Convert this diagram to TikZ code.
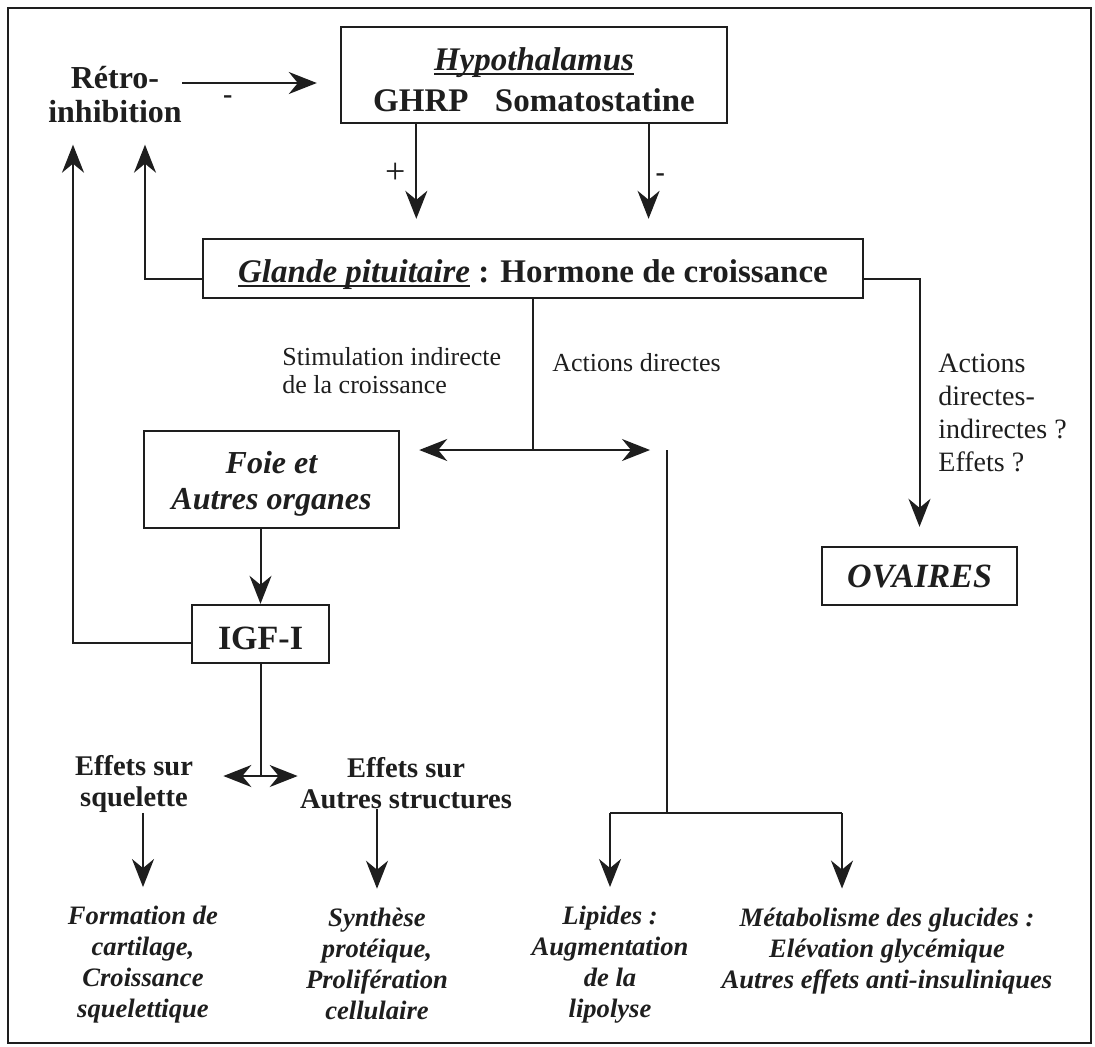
\documentclass[tikz,border=0pt]{standalone}
\usepackage{fontspec}
\setmainfont{Liberation Serif}
\usetikzlibrary{arrows.meta,calc}

\newsavebox{\undlbox}
\newcommand{\undl}[1]{\sbox{\undlbox}{#1}\rlap{\rule[-2pt]{\wd\undlbox}{1pt}}\usebox{\undlbox}}
\newcommand{\lift}[1]{\rule{0pt}{#1}}

\definecolor{ink}{RGB}{30,30,30}

% fonts
\newcommand{\fmain}{\fontsize{16.5}{20.5}\selectfont\bfseries}
\newcommand{\fretro}{\fontsize{16}{17}\selectfont\bfseries}
\newcommand{\ffoie}{\fontsize{16}{18}\selectfont\bfseries\itshape}
\newcommand{\figf}{\fontsize{17}{20}\selectfont\bfseries}
\newcommand{\flab}{\fontsize{13}{14}\selectfont}
\newcommand{\fask}{\fontsize{14}{16.5}\selectfont}
\newcommand{\feff}{\fontsize{14.25}{15.5}\selectfont\bfseries}
\newcommand{\fres}{\fontsize{13.3}{15.5}\selectfont\bfseries\itshape}
\newcommand{\fdash}{\fontsize{14}{16}\selectfont\bfseries}
\newcommand{\fplus}{\fontsize{18}{20}\selectfont}

\tikzset{
  box/.style={draw=ink, line width=1.2pt, inner sep=0pt, align=center, text=ink},
  txt/.style={inner sep=0pt, text=ink},
  arr/.style={draw=ink, line width=1pt, -{Stealth[length=14pt,width=11pt,inset=4.5pt]}},
  link/.style={draw=ink, line width=1pt},
}

\begin{document}
\begin{tikzpicture}[x=0.5pt, y=-0.5pt]
  \useasboundingbox (0,0) rectangle (1095,1046);
  \draw [ink, line width=1.4pt] (8,8) rectangle (1091,1043);
  % boxes
  \node [box, minimum width=193pt, minimum height=48pt, font=\fmain] (hypo) at (534,75)
    {\lift{16.5pt}\undl{\textit{Hypothalamus}}\\GHRP\hspace{.8em}Somatostatine};
  \node [box, minimum width=330pt, minimum height=29.5pt, font=\fmain] (glande) at (533,268.5)
    {\lift{17.5pt}\undl{\textit{Glande pituitaire}} : Hormone de croissance};
  \node [box, minimum width=127.5pt, minimum height=48.5pt, font=\ffoie] (foie) at (271.5,479.5)
    {\lift{15pt}Foie et\\Autres organes};
  \node [box, minimum width=68.5pt, minimum height=29pt, font=\figf] (igf) at (260.5,634) {\lift{16pt}IGF-I};
  \node [box, minimum width=97.5pt, minimum height=29pt, font=\figf\itshape] (ova) at (919.5,576) {OVAIRES};
  % texts
  \node [txt, align=center, font=\fretro, inner ysep=10.5pt] (retro) at (115,95) {Rétro-\\inhibition};
  \node [txt, align=left, font=\flab, anchor=west] (stim) at (282,371) {Stimulation indirecte\\de la croissance};
  \node [txt, font=\flab, anchor=base west] (direct) at (552,371) {Actions directes};
  \node [txt, align=left, font=\fask, anchor=west] (ask) at (938,413) {Actions\\directes-\\indirectes ?\\Effets ?};
  \node [txt, align=center, font=\feff] (skel) at (134,784) {Effets sur\\squelette};
  \node [txt, align=center, font=\feff] (other) at (406,783) {Effets sur\\Autres structures};
  \node [txt, align=center, font=\fres] (form) at (143,965) {Formation de\\cartilage,\\Croissance\\squelettique};
  \node [txt, align=center, font=\fres] (synth) at (377,964) {Synthèse\\protéique,\\Prolifération\\cellulaire};
  \node [txt, align=center, font=\fres] (lip) at (610,965) {Lipides :\\Augmentation\\de la\\lipolyse};
  \node [txt, align=center, font=\fres] (meta) at (887,951) {Métabolisme des glucides :\\Elévation glycémique\\Autres effets anti-insuliniques};
  % hypothalamus -> glande
  \coordinate (hp) at ($(hypo.south west)!.197!(hypo.south east)$);
  \coordinate (hm) at ($(hypo.south west)!.795!(hypo.south east)$);
  \draw [arr, shorten >=9.5pt] (hp) -- (hp |- glande.north)
    node [pos=.43, left=5pt, txt, font=\fplus] (plus) {+};
  \draw [arr, shorten >=9.5pt] (hm) -- (hm |- glande.north)
    node [pos=.47, right=3pt, txt, font=\fdash] (minus) {-};
  % retro-inhibition
  \coordinate (rh) at ([yshift=6pt]retro.east);
  \draw [arr, shorten >=11.5pt] (rh) -- (rh -| hypo.west)
    node [pos=.29, below=6pt, txt, font=\fdash] (neg) {-};
  \draw [arr] ([yshift=-5pt]glande.west) -| ([xshift=15pt]retro.south);
  \draw [arr] ([yshift=-4.5pt]igf.west) -| ([xshift=-21pt]retro.south);
  % actions
  \coordinate (split) at (glande.south |- 0,450);
  \coordinate (dtop) at (667,450);
  \draw [link] (glande.south) -- (split);
  \draw [arr, shorten >=9.5pt] (split) -- (split -| foie.east);
  \draw [arr, shorten >=8.5pt] (split) -- (dtop);
  \coordinate (dbot) at (dtop |- 0,813);
  \coordinate (lb) at (lip.north |- dbot);
  \coordinate (rb) at (842,813);
  \draw [link] (dtop) -- (dbot);
  \draw [link] (lb) -- (rb);
  \draw [arr, shorten >=9.5pt] (lb) -- (lip.north);
  \draw [arr, shorten >=9.5pt] (rb) -- (rb |- meta.north);
  \draw [arr, shorten >=9.5pt] ([yshift=-5pt]glande.east) -| (ova.north);
  % foie, igf
  \draw [arr] (igf.north |- foie.south) -- (igf.north);
  \coordinate (isplit) at (igf.south |- 0,776);
  \draw [link] (igf.south) -- (isplit);
  \draw [arr, shorten >=15pt] (isplit) -- (isplit -| skel.east);
  \draw [arr, shorten >=1pt] (isplit) -- (isplit -| other.west);
  \draw [arr, shorten >=9.5pt] (form.north |- skel.south) -- (form.north);
  \draw [arr, shorten >=9.5pt] (synth.north |- other.south) -- (synth.north);
\end{tikzpicture}
\end{document}
